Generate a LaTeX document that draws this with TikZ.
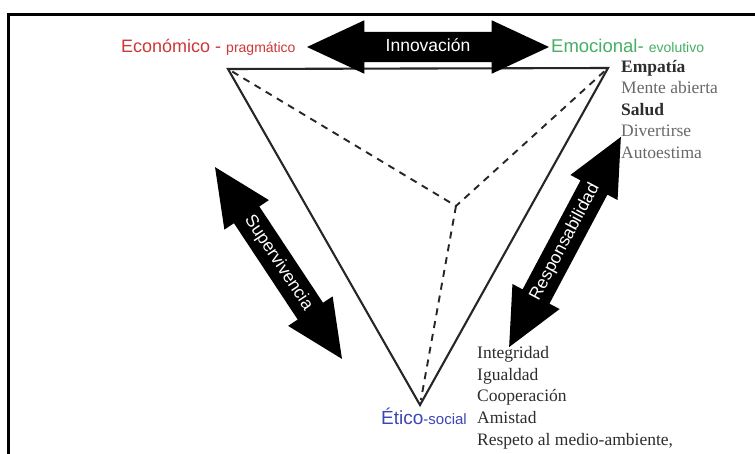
\documentclass[tikz,border=0pt]{standalone}
\usepackage{fontspec}
\setmainfont{Liberation Serif}
\setsansfont{Liberation Sans}
\usetikzlibrary{shapes.arrows,calc}

\definecolor{econred}{RGB}{205,55,55}
\definecolor{emogreen}{RGB}{70,175,100}
\definecolor{eticblue}{RGB}{60,70,180}
\definecolor{listdark}{RGB}{45,45,45}
\definecolor{listgray}{RGB}{105,105,105}

\begin{document}
\begin{tikzpicture}[x=1pt,y=-1pt,
  fatarrow/.style={double arrow, fill=black, text=white,
    font=\sffamily\fontsize{17.5}{17.5}\selectfont,
    double arrow head extend=11.5pt, double arrow tip angle=50,
    double arrow head indent=0pt, inner xsep=0pt, inner ysep=6.5pt,
    text height=13pt, text depth=4pt},
  edge/.style={line width=2.1pt, line join=miter, black!85},
  hidden/.style={line width=1.9pt, black!85, dash pattern=on 7pt off 6pt},
  pole/.style={inner sep=0pt, anchor=base west},
  item/.style={font=\rmfamily\fontsize{17.5}{17.5}\selectfont, inner sep=0pt, anchor=base west},
  itembold/.style={item, font=\rmfamily\bfseries\fontsize{17.5}{17.5}\selectfont},
]
\clip (0,0) rectangle (755,453);
\fill[white] (0,0) rectangle (755,453);

% outer frame (only its top and left sides fall inside the page)
\draw[line width=3pt] (8.5,470) -- (8.5,14.5) -- (770,14.5);

% vertices of the triangle and its hidden centre
\coordinate (ep) at (228,69);
\coordinate (emo) at (608,68);
\coordinate (eti) at (420,405);
\coordinate (hub) at (456,206);

\draw[edge] (ep) -- (emo) -- (eti) -- cycle;
\draw[hidden] ($(ep)!5pt!(hub)$) -- (hub);
\draw[hidden] ($(emo)!5pt!(hub)$) -- (hub);
\draw[hidden] (hub) -- ($(eti)!5pt!(hub)$);

% pole labels
\node[pole, text=econred] (lecon) at (121,52)
  {\fontsize{18}{18}\sffamily Económico - \fontsize{14}{14}\selectfont pragmático};
\node[pole, text=emogreen] (lemo) at (551,52)
  {\fontsize{18.5}{18.5}\sffamily Emocional- \fontsize{14}{14}\selectfont evolutivo};
\node[inner sep=0pt, anchor=base east, text=eticblue] (leti) at (467,424)
  {\fontsize{19}{19}\sffamily Ético\fontsize{15}{15}\selectfont-social};

% double arrows between the poles
\coordinate (ia) at (307,47);
\coordinate (ib) at (549,47);
\node[fatarrow, minimum height=242pt] (innov) at ($(ia)!0.5!(ib)$) {Innovación};

\coordinate (sa) at (215,167);
\coordinate (sb) at (342,359);
\node[fatarrow, minimum height=230pt, rotate=-56.5] (superv) at ($(sa)!0.5!(sb)$) {Supervivencia};

\coordinate (ra) at (509,347);
\coordinate (rb) at (621,137);
\node[fatarrow, minimum height=238pt, rotate=62] (respon) at ($(ra)!0.5!(rb)$) {Responsabilidad};

% values attached to the emotional pole
\node[itembold, text=listdark] (v1) at (621,72) {Empatía};
\node[item, text=listgray] (v2) at (621,93.5) {Mente abierta};
\node[itembold, text=listdark] (v3) at (621,115) {Salud};
\node[item, text=listgray] (v4) at (621,136.5) {Divertirse};
\node[item, text=listgray] (v5) at (621,158) {Autoestima};

% values attached to the ethical pole
\node[item, text=listdark] (w1) at (477,358) {Integridad};
\node[item, text=listdark] (w2) at (477,380) {Igualdad};
\node[item, text=listdark] (w3) at (477,401.5) {Cooperación};
\node[item, text=listdark] (w4) at (477,423.5) {Amistad};
\node[item, text=listdark] (w5) at (477,445) {Respeto al medio-ambiente,};
\end{tikzpicture}
\end{document}
